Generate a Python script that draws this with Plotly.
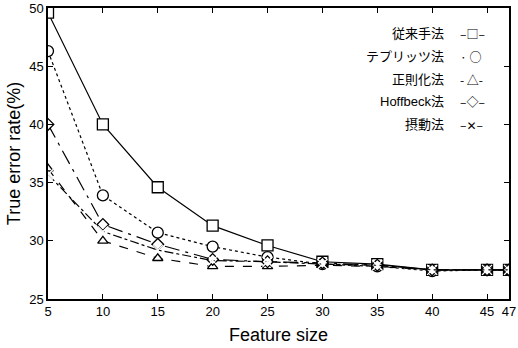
import plotly.graph_objects as go

feature_size = [5, 10, 15, 20, 25, 30, 35, 40, 45, 47]
conventional = [49.6, 40.0, 34.6, 31.3, 29.6, 28.2, 28.0, 27.5, 27.5, 27.5]
toeplitz = [46.3, 33.9, 30.7, 29.5, 28.6, 28.0, 27.8, 27.4, 27.5, 27.5]
regularized = [36.2, 30.0, 28.5, 27.8, 27.8, 27.9, 27.8, 27.5, 27.5, 27.5]
hoffbeck = [40.0, 31.4, 29.7, 28.4, 28.2, 28.1, 27.9, 27.5, 27.5, 27.5]
perturbation = [35.7, 30.8, 29.2, 28.3, 28.2, 28.0, 27.9, 27.5, 27.5, 27.5]

series_names = ["従来手法", "テプリッツ法", "正則化法", "Hoffbeck法", "摂動法"]
legend_samples = ["–□–", "· ○", "- △-", "–◇–", "–✕–"]
x_ticks = [5, 10, 15, 20, 25, 30, 35, 40, 45, 47]
y_ticks = [25, 30, 35, 40, 45, 50]

series = [conventional, toeplitz, regularized, hoffbeck, perturbation]
dashes = ["solid", "dot", "dash", "longdashdot", "dashdot"]
symbols = ["square", "circle", "triangle-up", "diamond", "x-thin-open"]
sizes = [11, 11, 9, 9, 10]

fig = go.Figure()
for name, ys, dash, sym, sz in zip(series_names, series, dashes, symbols, sizes):
    fig.add_trace(go.Scatter(
        x=feature_size, y=ys, mode="lines+markers", name=name,
        line=dict(color="black", width=1.2, dash=dash),
        marker=dict(symbol=sym, size=sz, color="white",
                    line=dict(color="black", width=1.3)),
        showlegend=False,
    ))

for i, (name, sample) in enumerate(zip(series_names, legend_samples)):
    fig.add_annotation(
        xref="paper", yref="paper", x=0.864, y=0.914 - i * 0.079,
        xanchor="right", yanchor="middle", showarrow=False,
        text=name, font=dict(size=13, color="black",
                             family="Liberation Sans, Noto Sans CJK JP"),
    )
    fig.add_annotation(
        xref="paper", yref="paper", x=0.89, y=0.914 - i * 0.079,
        xanchor="left", yanchor="middle", showarrow=False,
        text=sample, font=dict(size=12, color="black",
                               family="Noto Sans CJK JP, DejaVu Sans"),
    )

axis_common = dict(
    showline=True, linecolor="black", linewidth=1.5, mirror="ticks",
    ticks="inside", ticklen=5, tickcolor="black", tickwidth=1,
    showgrid=False, zeroline=False, automargin=False,
    tickfont=dict(family="Liberation Sans, Arial", size=13, color="black"),
)

fig.update_xaxes(range=[5, 47], tickvals=x_ticks, ticktext=[str(v) for v in x_ticks],
                 ticklabeloverflow="allow",
                 title=dict(text="Feature size", standoff=10,
                            font=dict(family="Liberation Sans, Arial", size=18, color="black")),
                 **axis_common)
fig.update_yaxes(range=[25, 50], tickvals=y_ticks, ticktext=[str(v) for v in y_ticks],
                 title=dict(text="True error rate(%)", standoff=4,
                            font=dict(family="Liberation Sans, Arial", size=18, color="black")),
                 **axis_common)

fig.update_layout(
    width=518, height=348,
    margin=dict(l=48, r=9, t=8, b=49),
    plot_bgcolor="white", paper_bgcolor="white",
)

fig.write_html("out.html", config={"displayModeBar": False},
               post_script="document.body.style.margin='0';")
